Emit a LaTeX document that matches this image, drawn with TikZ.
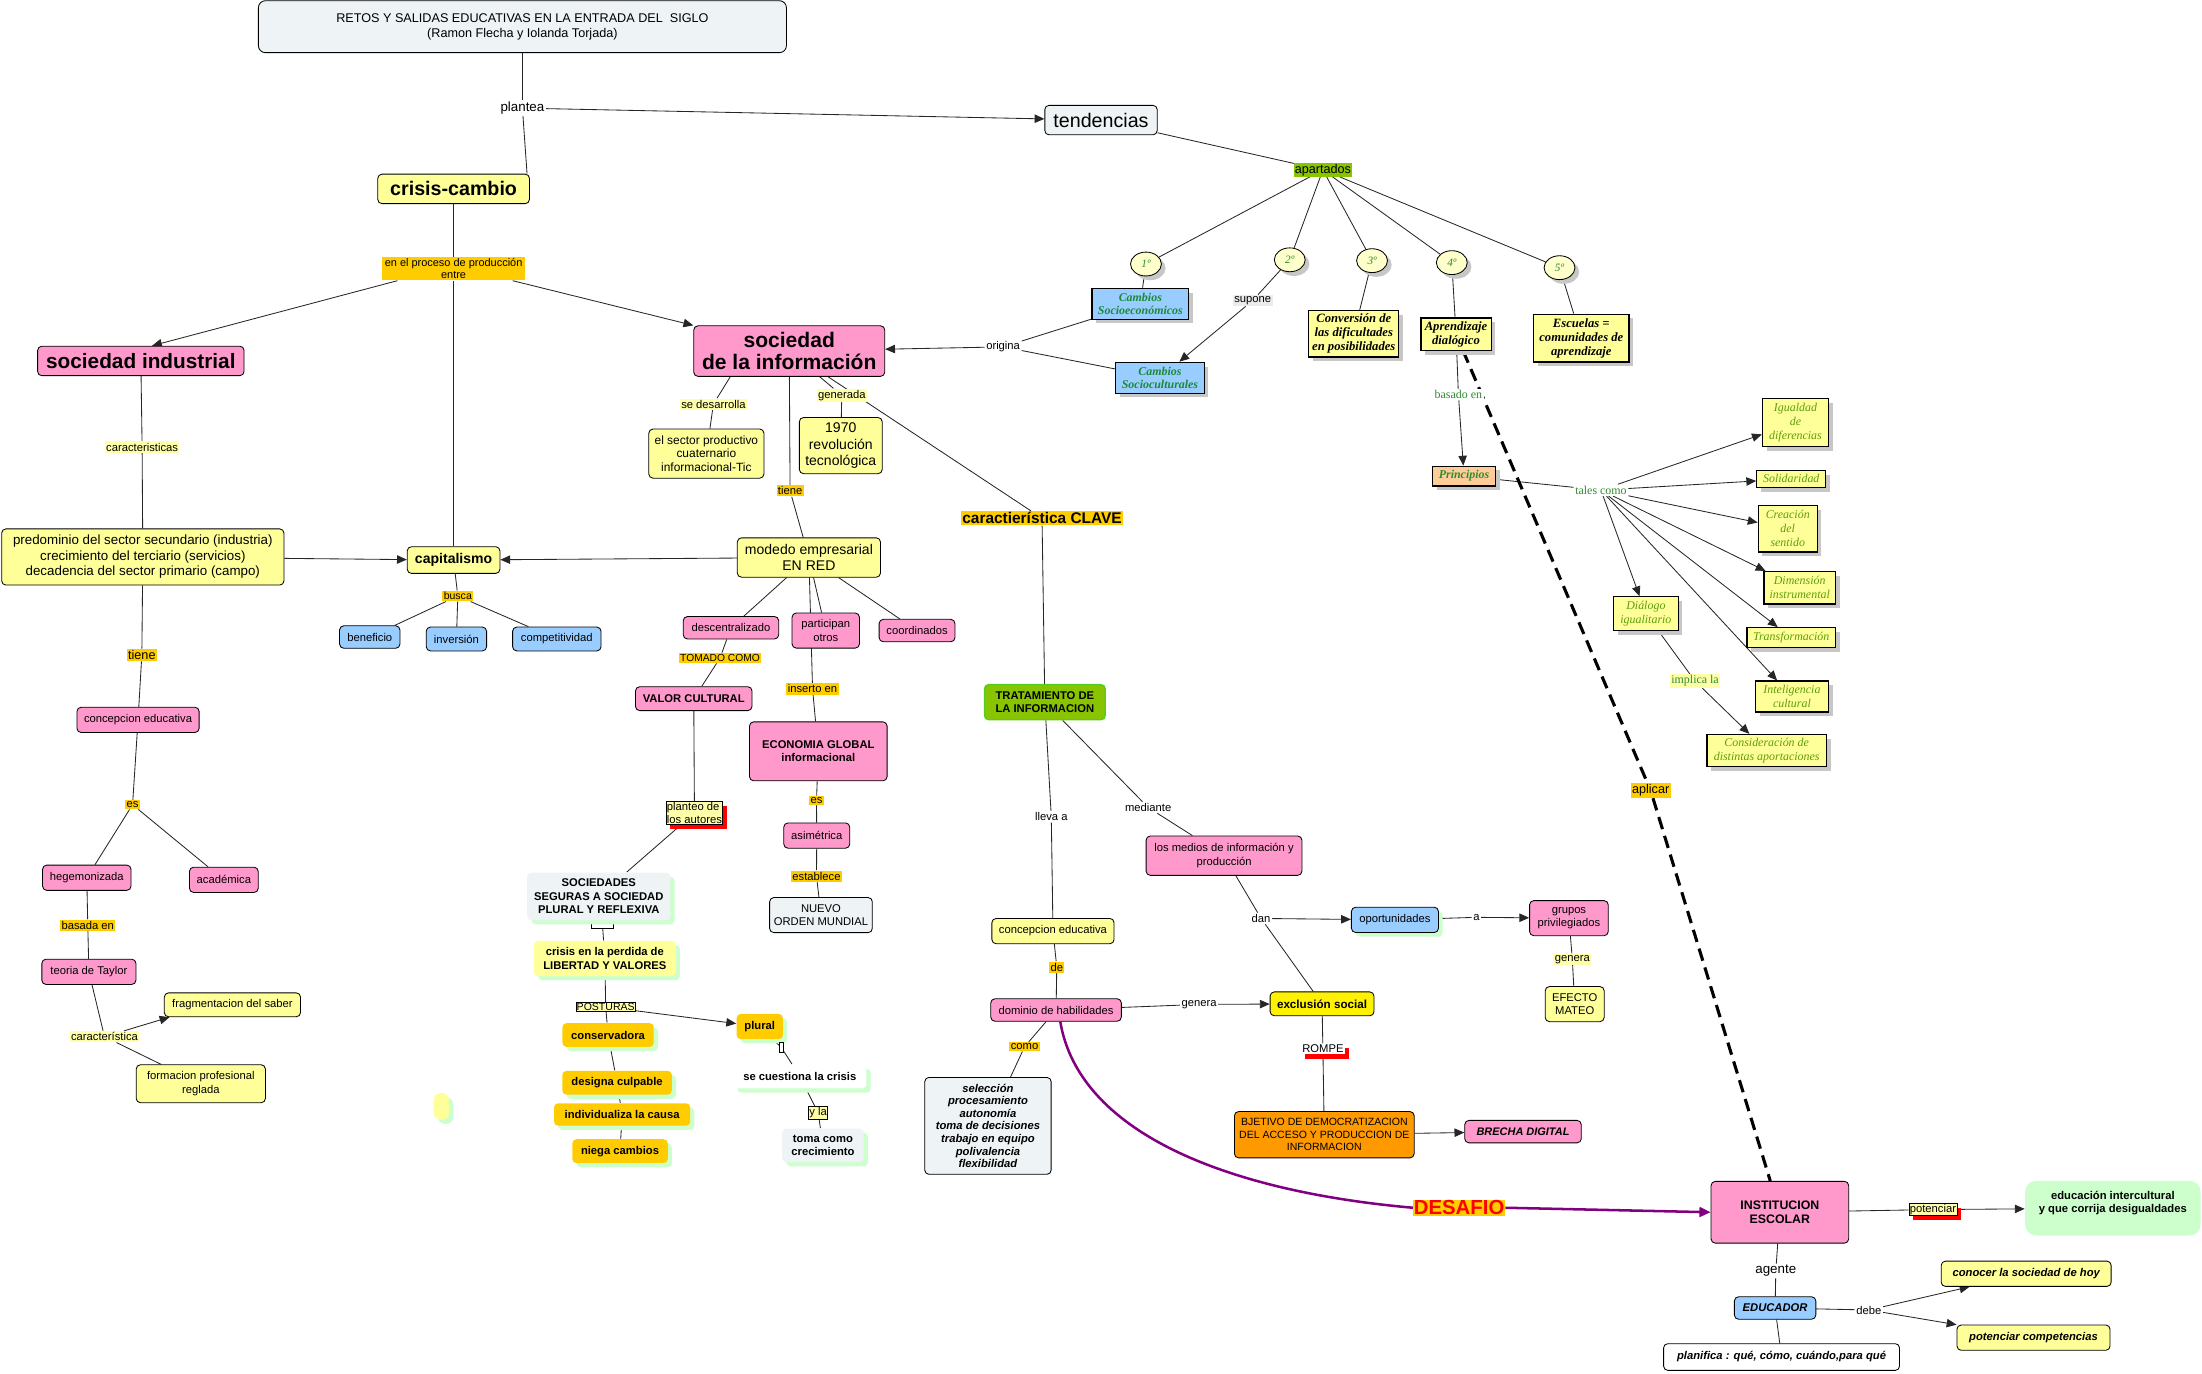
\documentclass[tikz,border=0pt]{standalone}
\usepackage{fontspec}
\setmainfont{Liberation Sans}
\newfontfamily\timesfont{Liberation Serif}
\usepackage{tikz}
\usetikzlibrary{arrows.meta, shapes.geometric, shadows, backgrounds}

\definecolor{cmPink}{HTML}{FF99CC}
\definecolor{cmYellow}{HTML}{FFFF99}
\definecolor{cmBlue}{HTML}{99CCFF}
\definecolor{cmGold}{HTML}{FFCC00}
\definecolor{cmPale}{HTML}{FFFFAA}
\definecolor{cmGray}{HTML}{EEF3F5}
\definecolor{cmLime}{HTML}{88C400}
\definecolor{cmLeaf}{HTML}{55CC22}
\definecolor{cmMint}{HTML}{CCFFCC}
\definecolor{cmOrange}{HTML}{FF9900}
\definecolor{cmPeach}{HTML}{FFCC99}
\definecolor{cmCream}{HTML}{FFFFCC}
\definecolor{cmPurple}{HTML}{800080}
\definecolor{cmGreen}{HTML}{2E8B2E}
\definecolor{cmTeal}{HTML}{1A8A3A}
\definecolor{cmOlive}{HTML}{5E9E0A}

\newcommand{\fsz}[2]{\fontsize{#1}{#2}\selectfont}

\begin{document}
\begin{tikzpicture}[x=1pt, y=-1pt,
        concept/.style={draw=black, line width=0.6pt, rounded corners=3pt, align=center, inner xsep=3pt, inner ysep=2pt, font=\fsz{8}{9.5}},
        pinkc/.style={concept, fill=cmPink},
        yelc/.style={concept, fill=cmYellow},
        bluec/.style={concept, fill=cmBlue},
        grayc/.style={concept, fill=cmGray},
        whitec/.style={concept, fill=white},
        softc/.style={concept, draw=none, gshadow, font=\fsz{8}{9.5}\bfseries},
        link/.style={fill=white, inner sep=1pt, align=center, font=\fsz{8}{9}},
        gold/.style={link, fill=cmGold},
        pale/.style={link, fill=cmPale},
        boxed/.style={link, draw=black, line width=0.5pt, fill=cmPale, inner sep=0.6pt},
        redsh/.style={drop shadow={shadow xshift=3pt, shadow yshift=-3pt, fill=red, opacity=1}},
        gshadow/.style={drop shadow={shadow xshift=3pt, shadow yshift=-3pt, fill=cmMint, opacity=1}},
        grsh/.style={drop shadow={shadow xshift=3pt, shadow yshift=-3pt, fill=black!22, opacity=1}},
        tbox/.style={draw=black, line width=0.9pt, rectangle, align=center, inner sep=1.5pt, fill=cmYellow, grsh, font=\timesfont\bfseries\itshape\fsz{9}{10}},
        tprin/.style={tbox, text=cmOlive, font=\timesfont\itshape\fsz{8.5}{10}},
        ttext/.style={link, text=cmGreen, font=\timesfont\fsz{8.5}{10}},
        disc/.style={ellipse, draw=black, line width=0.6pt, fill=cmCream, grsh, minimum width=22pt, minimum height=17pt, inner sep=0pt, text=cmGreen, font=\timesfont\itshape\fsz{8}{9}},
        conn/.style={draw=black!85, line width=0.6pt},
        connto/.style={conn, -{Triangle[length=7pt, width=6pt]}},
        dashline/.style={draw=black, line width=2.2pt, dash pattern=on 9pt off 5pt},
        purpleline/.style={draw=cmPurple, line width=1.8pt}]
        % Fix the canvas
        \useasboundingbox (0,0) rectangle (1568,978);

        % Draw the title and the first level
        \node[grayc, rounded corners=5pt, minimum width=376pt, minimum height=37pt, font=\fsz{9}{10.5}] (title) at (372,19)
            {RETOS Y SALIDAS EDUCATIVAS EN LA ENTRADA DEL\ \ SIGLO\\(Ramon Flecha y Iolanda Torjada)};
        \node[link, font=\fsz{9.5}{11}] (plantea) at (372,77) {plantea};
        \node[grayc, minimum width=80pt, minimum height=21pt, font=\fsz{14}{16}] (tend) at (784,85.5) {tendencias};
        \node[yelc, minimum width=108pt, minimum height=21pt, font=\fsz{14}{16}\bfseries] (crisis) at (323,134.5) {crisis-cambio};
        \node[gold, minimum width=102pt, font=\fsz{7.8}{8.5}] (proceso) at (323,191.5) {en el proceso de producción\\entre};

        % Draw the industrial society branch
        \node[pinkc, minimum width=147pt, minimum height=21pt, font=\fsz{14.8}{16}\bfseries] (socind) at (100.3,257) {sociedad industrial};
        \node[pale] (caract) at (101.2,318.3) {caracteristicas};
        \node[yelc, minimum width=201pt, minimum height=40pt, font=\fsz{9.5}{11}] (predom) at (101.7,396.6)
            {predominio del sector secundario (industria)\\crecimiento del terciario (servicios)\\decadencia del sector primario (campo)};
        \node[yelc, minimum width=66pt, minimum height=19pt, font=\fsz{10}{12}\bfseries] (capit) at (323,398.8) {capitalismo};
        \node[gold, font=\fsz{7.5}{9}] (busca) at (326,424.4) {busca};
        \node[bluec, minimum width=43pt, minimum height=16pt] (benef) at (263.3,453.6) {beneficio};
        \node[bluec, minimum width=43pt, minimum height=17pt] (invers) at (325,455) {inversión};
        \node[bluec, minimum width=63pt, minimum height=17pt] (compet) at (396.5,455) {competitividad};
        \node[gold, font=\fsz{9}{10}] (tieneA) at (101,466.4) {tiene};
        \node[pinkc, minimum width=87pt, minimum height=18pt] (concepA) at (98.3,512.6) {concepcion educativa};
        \node[gold] (esA) at (94.4,573) {es};
        \node[pinkc, minimum width=63pt, minimum height=18pt] (hegem) at (61.8,625) {hegemonizada};
        \node[pinkc, minimum width=49pt, minimum height=18pt] (academ) at (159.4,626.5) {académica};
        \node[gold] (basada) at (62.5,658.7) {basada en};
        \node[pinkc, minimum width=67pt, minimum height=18pt] (taylor) at (63.3,692) {teoria de Taylor};
        \node[pale] (caractB) at (74.4,738.2) {característica};
        \node[yelc, minimum width=97pt, minimum height=17pt] (fragm) at (165.5,715.5) {fragmentacion del saber};
        \node[yelc, minimum width=92pt, minimum height=27pt] (formac) at (143,771.7) {formacion profesional\\reglada};

        % Draw the information society branch
        \node[pinkc, minimum width=136pt, minimum height=36pt, font=\fsz{15}{16}\bfseries] (socinfo) at (562,250) {sociedad\\de la información};
        \node[pale] (desarr) at (508,287.7) {se desarrolla};
        \node[yelc, minimum width=82pt, minimum height=35pt, font=\fsz{8.5}{9.5}] (sector) at (503,323) {el sector productivo\\cuaternario\\informacional-Tic};
        \node[pale] (generada) at (599.4,281.5) {generada};
        \node[yelc, minimum width=59pt, minimum height=40pt, font=\fsz{10}{11.5}] (revol) at (598.7,317.3) {1970\\revolución\\tecnológica};
        \node[gold] (tieneB) at (562.6,349.6) {tiene};
        \node[yelc, minimum width=102pt, minimum height=28pt, font=\fsz{10}{11.5}] (modedo) at (576,397) {modedo empresarial\\EN RED};
        \node[pinkc, minimum width=68pt, minimum height=16pt] (descent) at (520.5,447) {descentralizado};
        \node[pinkc, minimum width=48pt, minimum height=25pt] (particip) at (588,449) {participan\\otros};
        \node[pinkc, minimum width=54pt, minimum height=16pt] (coord) at (653,449) {coordinados};
        \node[gold, font=\fsz{7.3}{9}] (tomado) at (512.7,468.6) {TOMADO COMO};
        \node[pinkc, minimum width=83pt, minimum height=17pt, font=\fsz{8}{9.5}\bfseries] (valor) at (494,497.5) {VALOR CULTURAL};
        \node[boxed, redsh, align=left] (planteo) at (494.5,579) {planteo de\\los autores};
        \node[draw=black, line width=0.5pt, inner sep=0pt, minimum width=16pt, minimum height=5pt] (stubA) at (429,658.5) {};
        \node[softc, fill=cmGray, minimum width=102pt, minimum height=34pt] (socseg) at (426.4,638.3) {SOCIEDADES\\SEGURAS A SOCIEDAD\\PLURAL Y REFLEXIVA};
        \node[softc, fill=cmYellow, minimum width=101pt, minimum height=25pt] (perdida) at (430.7,682.5) {crisis en la perdida de\\LIBERTAD Y VALORES};
        \node[boxed, font=\fsz{7.5}{8}] (posturas) at (431.3,717) {POSTURAS};
        \node[softc, fill=cmGold, minimum width=65pt, minimum height=17pt] (conserv) at (433,737) {conservadora};
        \node[softc, fill=cmGold, minimum width=78pt, minimum height=17pt] (designa) at (439.4,771) {designa culpable};
        \node[softc, fill=cmGold, minimum width=97pt, minimum height=16pt] (individ) at (443,793.6) {individualiza la causa};
        \node[softc, fill=cmGold, minimum width=68pt, minimum height=17pt] (niega) at (441.5,819.7) {niega cambios};
        \node[softc, fill=cmGold, minimum width=33pt, minimum height=18pt] (plural) at (541,731) {plural};
        \node[draw=black, line width=0.5pt, inner sep=0pt, minimum width=3pt, minimum height=7pt] (stubB) at (556.5,746) {};
        \node[softc, fill=white, minimum width=95pt, minimum height=17pt] (cuestiona) at (569.5,766.5) {se cuestiona la crisis};
        \node[boxed] (ylab) at (582.6,792.4) {y la};
        \node[softc, fill=cmGray, minimum width=58pt, minimum height=24pt] (tomacomo) at (586,815.6) {toma como\\crecimiento};
        \node[softc, fill=cmYellow, rounded corners=5pt, minimum width=11pt, minimum height=19pt] (blob) at (314.3,787.8) {};
        \node[gold] (inserto) at (578.6,490.6) {inserto en};
        \node[pinkc, minimum width=98pt, minimum height=42pt, font=\fsz{8}{9.5}\bfseries] (econ) at (582.7,535) {ECONOMIA GLOBAL\\informacional};
        \node[gold] (esB) at (581.4,570) {es};
        \node[pinkc, minimum width=47pt, minimum height=18pt] (asim) at (581.6,595) {asimétrica};
        \node[gold] (estab) at (581.4,623.8) {establece};
        \node[grayc, minimum width=73pt, minimum height=25pt] (nuevo) at (584.6,651.6) {NUEVO\\ORDEN MUNDIAL};

        % Draw the key feature branch
        \node[gold, font=\fsz{11}{13}\bfseries] (clave) at (742,369) {caractierística CLAVE};
        \node[concept, fill=cmLime, draw=cmLeaf, line width=1pt, minimum width=86pt, minimum height=25pt, font=\fsz{8}{9.5}\bfseries] (trat) at (744,500) {TRATAMIENTO DE\\LA INFORMACION};
        \node[link] (lleva) at (748.6,581.6) {lleva a};
        \node[link] (mediante) at (817.6,575) {mediante};
        \node[pinkc, minimum width=111pt, minimum height=28pt] (medios) at (871.6,609.3) {los medios de información y\\producción};
        \node[yelc, minimum width=87pt, minimum height=18pt] (concepB) at (749.8,663) {concepcion educativa};
        \node[gold] (deL) at (752.5,688.6) {de};
        \node[pinkc, minimum width=93pt, minimum height=16pt] (dominio) at (752,719.2) {dominio de habilidades};
        \node[gold] (como) at (729.6,745.3) {como};
        \node[grayc, minimum width=90pt, minimum height=69pt, font=\fsz{8}{9}\bfseries\itshape] (selec) at (703.5,801.7)
            {selección\\procesamiento\\autonomía\\toma de decisiones\\trabajo en equipo\\polivalencia\\flexibilidad};
        \node[link] (generaA) at (853.8,715.2) {genera};
        \node[concept, fill=yellow, minimum width=74pt, minimum height=17pt, font=\fsz{8.3}{9.5}\bfseries] (exclus) at (941.4,714.8) {exclusión social};
        \node[link] (dan) at (898,654) {dan};
        \node[bluec, gshadow, minimum width=62pt, minimum height=18pt] (oport) at (993.3,655) {oportunidades};
        \node[link] (aL) at (1051.3,653.2) {a};
        \node[pinkc, minimum width=56pt, minimum height=25pt] (grupos) at (1117.2,653.8) {grupos\\privilegiados};
        \node[pale] (generaB) at (1119.6,683) {genera};
        \node[yelc, minimum width=42pt, minimum height=25pt] (efecto) at (1121.3,715) {EFECTO\\MATEO};
        \node[link, redsh] (rompe) at (942,747) {ROMPE};
        \node[concept, fill=cmOrange, minimum width=128pt, minimum height=33pt, font=\fsz{7.5}{9}] (objet) at (943,808)
            {BJETIVO DE DEMOCRATIZACION\\DEL ACCESO Y PRODUCCION DE\\INFORMACION};
        \node[pinkc, minimum width=83pt, minimum height=16pt, font=\fsz{7.8}{9}\bfseries\itshape] (brecha) at (1084.5,805.8) {BRECHA DIGITAL};
        \node[gold, inner sep=0.5pt, text=red, font=\fsz{14.5}{16}\bfseries] (desafio) at (1039,860) {DESAFIO};

        % Draw the school and the educator
        \node[pinkc, minimum width=98pt, minimum height=44pt, font=\fsz{8.8}{10.5}\bfseries] (inst) at (1267.4,863.2) {INSTITUCION\\ESCOLAR};
        \node[boxed, redsh] (potenc) at (1376.4,861.3) {potenciar};
        \node[concept, draw=none, fill=cmMint, rounded corners=8pt, minimum width=125pt, minimum height=39pt, font=\fsz{8}{9.5}\bfseries] (educ) at (1504.5,860.3)
            {educación intercultural\\y que corrija desigualdades\\[-1pt]\mbox{}};
        \node[link, font=\fsz{9.5}{11}] (agente) at (1264.5,905) {agente};
        \node[bluec, minimum width=58pt, minimum height=16pt, font=\fsz{8}{9.5}\bfseries\itshape] (educador) at (1264,931.4) {EDUCADOR};
        \node[link] (debe) at (1330.8,932.8) {debe};
        \node[yelc, minimum width=121pt, minimum height=18pt, font=\fsz{8}{9.5}\bfseries\itshape] (conocer) at (1442.8,907) {conocer la sociedad de hoy};
        \node[yelc, minimum width=109pt, minimum height=18pt, font=\fsz{8}{9.5}\bfseries\itshape] (potcomp) at (1448,952.5) {potenciar competencias};
        \node[whitec, minimum width=168pt, minimum height=19pt, font=\fsz{8}{9.5}\bfseries\itshape] (planif) at (1268.6,966.3) {planifica : qué, cómo, cuándo,para qué};

        % Draw the trends and their sections
        \node[link, fill=cmLime, inner sep=0.5pt, font=\fsz{9}{10}] (apart) at (942,121) {apartados};
        \node[disc] (c1) at (816,188) {1º};
        \node[disc] (c2) at (918.4,185) {2º};
        \node[disc] (c3) at (977,185.6) {3º};
        \node[disc] (c4) at (1033.8,187) {4º};
        \node[disc] (c5) at (1110.5,190.6) {5º};
        \node[tbox, fill=cmBlue, text=cmTeal, minimum width=69pt, minimum height=22pt, font=\timesfont\bfseries\itshape\fsz{8.5}{9.5}] (camSE) at (812,216.3) {Cambios\\Socioeconómicos};
        \node[link, fill=black!8] (supone) at (892,214) {supone};
        \node[tbox, fill=cmBlue, text=cmTeal, minimum width=63pt, minimum height=22pt, font=\timesfont\bfseries\itshape\fsz{8.5}{9.5}] (camSC) at (826,269) {Cambios\\Socioculturales};
        \node[link] (origina) at (714.3,247) {origina};
        \node[tbox, minimum width=64pt, minimum height=33pt] (conver) at (964,237.7) {Conversión de\\las dificultades\\en posibilidades};
        \node[tbox, minimum width=50pt, minimum height=23pt] (aprend) at (1036.8,238) {Aprendizaje\\dialógico};
        \node[tbox, minimum width=68pt, minimum height=34pt] (escuel) at (1126,240.7) {Escuelas =\\comunidades de\\aprendizaje};
        \node[ttext] (basado) at (1038.5,281) {basado en};
        \node[tbox, fill=cmPeach, text=cmGreen, minimum width=45pt, minimum height=14pt, font=\timesfont\bfseries\itshape\fsz{8.5}{9.5}] (princ) at (1042.5,339) {Principios};
        \node[ttext] (tales) at (1140,349) {tales como};
        \node[tprin, minimum width=47pt, minimum height=34pt] (igual) at (1278.5,301) {Igualdad\\de\\diferencias};
        \node[tprin, minimum width=49pt, minimum height=12pt] (solid) at (1275.5,341) {Solidaridad};
        \node[tprin, minimum width=42pt, minimum height=33pt] (creac) at (1273,376.5) {Creación\\del\\sentido};
        \node[tprin, minimum width=51pt, minimum height=23pt] (dimen) at (1281.5,418.5) {Dimensión\\instrumental};
        \node[tprin, minimum width=63pt, minimum height=14pt] (transf) at (1275.5,454) {Transformación};
        \node[tprin, minimum width=52pt, minimum height=22pt] (intel) at (1276,496) {Inteligencia\\cultural};
        \node[tprin, minimum width=46pt, minimum height=24pt] (dialog) at (1172,437) {Diálogo\\igualitario};
        \node[tprin, minimum width=85pt, minimum height=23pt] (consid) at (1258,534.5) {Consideración de\\distintas aportaciones};
        \node[ttext, fill=cmPale] (implica) at (1207,485) {implica la};
        \node[gold, font=\fsz{9}{10}] (aplicar) at (1175.4,563) {aplicar};

        % Draw the connections behind the nodes
        \begin{scope}[on background layer]
            \foreach \a/\b in {title/plantea, tend/apart, apart/c1, apart/c2, apart/c3, apart/c4, apart/c5,
                    c1/camSE, c2/supone, c3/conver, c4/aprend, c5/escuel, camSE/origina, camSC/origina,
                    aprend/basado, princ/tales, dialog/implica, crisis/proceso, proceso/capit,
                    socind/caract, caract/predom, predom/tieneA, tieneA/concepA, concepA/esA, esA/hegem, esA/academ,
                    hegem/basada, basada/taylor, taylor/caractB, caractB/formac, capit/busca, busca/benef, busca/invers, busca/compet,
                    desarr/sector, socinfo/generada, generada/revol, socinfo/clave, socinfo/tieneB, tieneB/modedo,
                    modedo/descent, modedo/particip, modedo/coord, modedo/inserto, inserto/econ, econ/esB, esB/asim, asim/estab, estab/nuevo,
                    descent/tomado, tomado/valor, valor/planteo, planteo/socseg, socseg/stubA, stubA/perdida, perdida/posturas,
                    posturas/conserv, conserv/designa, designa/individ, individ/niega, plural/stubB, stubB/cuestiona, cuestiona/ylab, ylab/tomacomo,
                    clave/trat, trat/lleva, lleva/concepB, concepB/deL, deL/dominio, trat/mediante, mediante/medios, medios/dan, dan/exclus,
                    oport/aL, grupos/generaB, generaB/efecto, dominio/como, como/selec, dominio/generaA, exclus/rompe, rompe/objet,
                    inst/potenc, inst/agente, agente/educador, educador/debe, educador/planif}
                \draw[conn] (\a) -- (\b);
            \foreach \a/\b in {plantea/tend, supone/camSC, origina/socinfo, basado/princ, tales/igual, tales/solid, tales/creac,
                    tales/dimen, tales/transf, tales/intel, tales/dialog, implica/consid, predom/capit, modedo/capit, posturas/plural,
                    dan/oport, aL/grupos, generaA/exclus, objet/brecha, potenc/educ, debe/conocer, debe/potcomp}
                \draw[connto] (\a) -- (\b);
            \draw[conn] (plantea) -- ([xshift=-2pt]crisis.north east);
            \draw[conn] ([xshift=-42pt]socinfo.south) -- (desarr);
            \draw[connto] ([xshift=-40pt]proceso.south) -- ([xshift=8pt]socind.north);
            \draw[connto] ([xshift=42pt]proceso.south) -- (socinfo.north west);
            \draw[connto] (caractB) -- ([xshift=4pt]fragm.south west);
            % the challenge and the dashed link
            \draw[purpleline] ([xshift=3pt]dominio.south) .. controls (768,805) and (870,848) .. (desafio.west);
            \draw[purpleline, -{Triangle[length=8pt, width=7pt]}] (desafio.east) -- (inst.west);
            \draw[dashline] (aprend) -- (aplicar);
            \draw[dashline] (aplicar) -- (inst);
        \end{scope}
\end{tikzpicture}
\end{document}
